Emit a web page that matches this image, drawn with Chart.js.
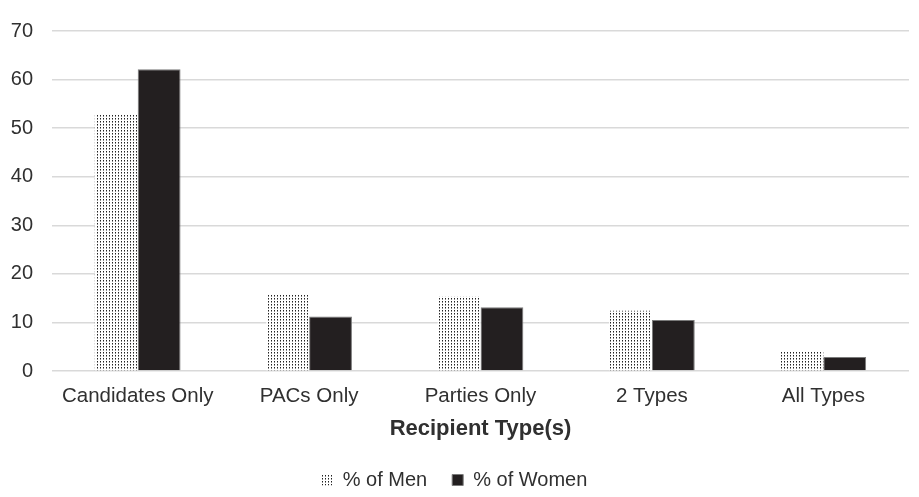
<!DOCTYPE html>
<html>
<head>
<meta charset="utf-8">
<script src="https://cdn.jsdelivr.net/npm/chart.js@4.4.1/dist/chart.umd.min.js"></script>
<style>
  html, body { margin: 0; padding: 0; background: #ffffff; overflow: hidden; }
  #wrap { width: 919px; height: 500px; position: relative; }
</style>
</head>
<body>
<div id="wrap"><canvas id="chart"></canvas></div>
<script>
// Datos
const categories = ["Candidates Only", "PACs Only", "Parties Only", "2 Types", "All Types"];
const menValues = [52.8, 15.7, 15.3, 12.4, 3.9];
const womenValues = [62.1, 11.2, 13.1, 10.5, 2.9];
const yTicks = [0, 10, 20, 30, 40, 50, 60, 70];

// Patrón punteado para la serie de hombres
function dottedPattern() {
    const c = document.createElement("canvas");
    c.width = 3;
    c.height = 3;
    const g = c.getContext("2d");
    g.fillStyle = "#ffffff";
    g.fillRect(0, 0, 3, 3);
    g.fillStyle = "#222222";
    g.fillRect(1, 1, 1, 1);
    g.fillStyle = "#8a8a8a";
    g.fillRect(1, 2, 1, 1);
    return g.createPattern(c, "repeat");
}

const textColor = "#303030";
const ctx = document.getElementById("chart").getContext("2d");
const chart = new Chart(ctx, {
    type: "bar",
    data: {
        labels: categories,
        datasets: [{
            label: "% of Men",
            data: menValues,
            backgroundColor: dottedPattern(),
            borderWidth: 0,
            categoryPercentage: 0.5,
            barPercentage: 1
        }, {
            label: "% of Women",
            data: womenValues,
            backgroundColor: "#231f20",
            borderColor: "#7a7a7a",
            borderWidth: 1,
            categoryPercentage: 0.5,
            barPercentage: 1
        }]
    },
    options: {
        responsive: true,
        maintainAspectRatio: false,
        animation: false,
        layout: { padding: { top: 11, right: 10, left: 0, bottom: 0 } },
        scales: {
            x: {
                grid: { display: false, drawTicks: false },
                border: { display: false },
                ticks: { color: textColor, font: { family: "Liberation Sans", size: 20.5 }, padding: 13, maxRotation: 0 },
                title: {
                    display: true,
                    text: "Recipient Type(s)",
                    color: textColor,
                    font: { family: "Liberation Sans", size: 22, weight: "bold" },
                    padding: { top: 6, bottom: 3 }
                },
                afterFit: scale => { scale.height = 74; }
            },
            y: {
                min: 0,
                max: 70,
                afterBuildTicks: scale => { scale.ticks = yTicks.map(v => ({ value: v })); },
                grid: { color: "#d9d9d9", lineWidth: 1.5, drawTicks: false },
                border: { display: false },
                ticks: { color: textColor, font: { family: "Liberation Sans", size: 20 }, padding: 19 },
                afterFit: scale => { scale.width = 52; }
            }
        },
        plugins: {
            legend: {
                position: "bottom",
                labels: {
                    color: textColor,
                    font: { family: "Liberation Sans", size: 20 },
                    boxWidth: 11,
                    boxHeight: 11,
                    padding: 25
                }
            },
            tooltip: { enabled: false }
        }
    }
});
</script>
</body>
</html>
